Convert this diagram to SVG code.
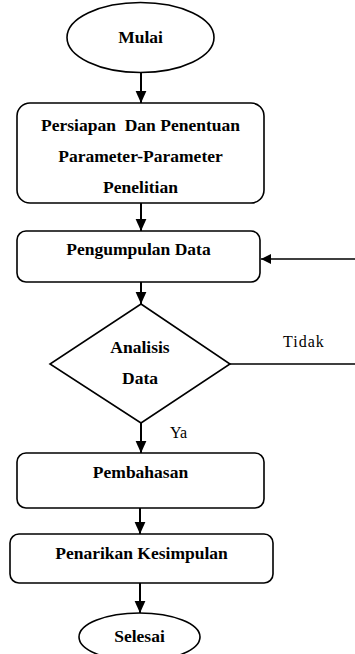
<svg xmlns="http://www.w3.org/2000/svg" width="355" height="654" viewBox="0 0 355 654">
<style>
.shape{fill:#fff;stroke:#000;stroke-width:1.6}
.t{font-family:"Liberation Serif","Times New Roman",serif;font-weight:bold;font-size:17.5px;text-anchor:middle;fill:#000}
.lbl{font-family:"Liberation Serif","Times New Roman",serif;font-size:16px;fill:#000}
.c{fill:none;stroke:#000;stroke-width:2}
</style>
<defs>
<marker id="ah" viewBox="0 0 10 10" refX="10" refY="5" markerWidth="10" markerHeight="10" markerUnits="userSpaceOnUse" orient="auto">
<path d="M0,0 L10,5 L0,10 z" fill="#000"/>
</marker>
<marker id="ahb" viewBox="0 0 10 10" refX="10" refY="5" markerWidth="12" markerHeight="12" markerUnits="userSpaceOnUse" orient="auto">
<path d="M0,0.5 L10,5 L0,9.5 z" fill="#000"/>
</marker>
</defs>
<rect width="355" height="654" fill="#fff"/>
<g id="connectors">
<line class="c" x1="141" y1="73" x2="141" y2="103" marker-end="url(#ahb)"/>
<line class="c" x1="141" y1="203" x2="141" y2="231" marker-end="url(#ahb)"/>
<line class="c" x1="141" y1="282" x2="141" y2="304" marker-end="url(#ahb)"/>
<line class="c" x1="141" y1="423" x2="141" y2="453" marker-end="url(#ahb)"/>
<line class="c" x1="140" y1="508" x2="140" y2="534" marker-end="url(#ahb)"/>
<line class="c" x1="140" y1="583" x2="140" y2="613" marker-end="url(#ahb)"/>
<path class="c" style="stroke-width:1.6" d="M230,364 H358 V259 H261" marker-end="url(#ah)"/>
<text class="lbl" x="283" y="347" letter-spacing="1">Tidak</text>
<text class="lbl" x="170" y="438">Ya</text>
</g>
<g id="mulai">
<ellipse class="shape" cx="140.5" cy="37.5" rx="73.5" ry="35"/>
<text class="t" x="140.5" y="43">Mulai</text>
</g>
<g id="persiapan">
<rect class="shape" x="17" y="103" width="247" height="100" rx="13"/>
<text class="t" x="140.5" y="131" xml:space="preserve">Persiapan  Dan Penentuan</text>
<text class="t" x="140.5" y="162">Parameter-Parameter</text>
<text class="t" x="140.5" y="193">Penelitian</text>
</g>
<g id="pengumpulan">
<rect class="shape" x="17" y="231" width="243" height="51" rx="9"/>
<text class="t" x="138.5" y="255">Pengumpulan Data</text>
</g>
<g id="analisis">
<polygon class="shape" points="141,304 230,364 141,423 50,364"/>
<text class="t" x="140" y="353">Analisis</text>
<text class="t" x="140" y="384">Data</text>
</g>
<g id="pembahasan">
<rect class="shape" x="17" y="453" width="247" height="55" rx="9"/>
<text class="t" x="140.5" y="478">Pembahasan</text>
</g>
<g id="penarikan">
<rect class="shape" x="10" y="534" width="263" height="49" rx="9"/>
<text class="t" x="141.5" y="559">Penarikan Kesimpulan</text>
</g>
<g id="selesai">
<ellipse class="shape" cx="139.5" cy="637" rx="60.5" ry="24"/>
<text class="t" x="139.5" y="642">Selesai</text>
</g>
</svg>
